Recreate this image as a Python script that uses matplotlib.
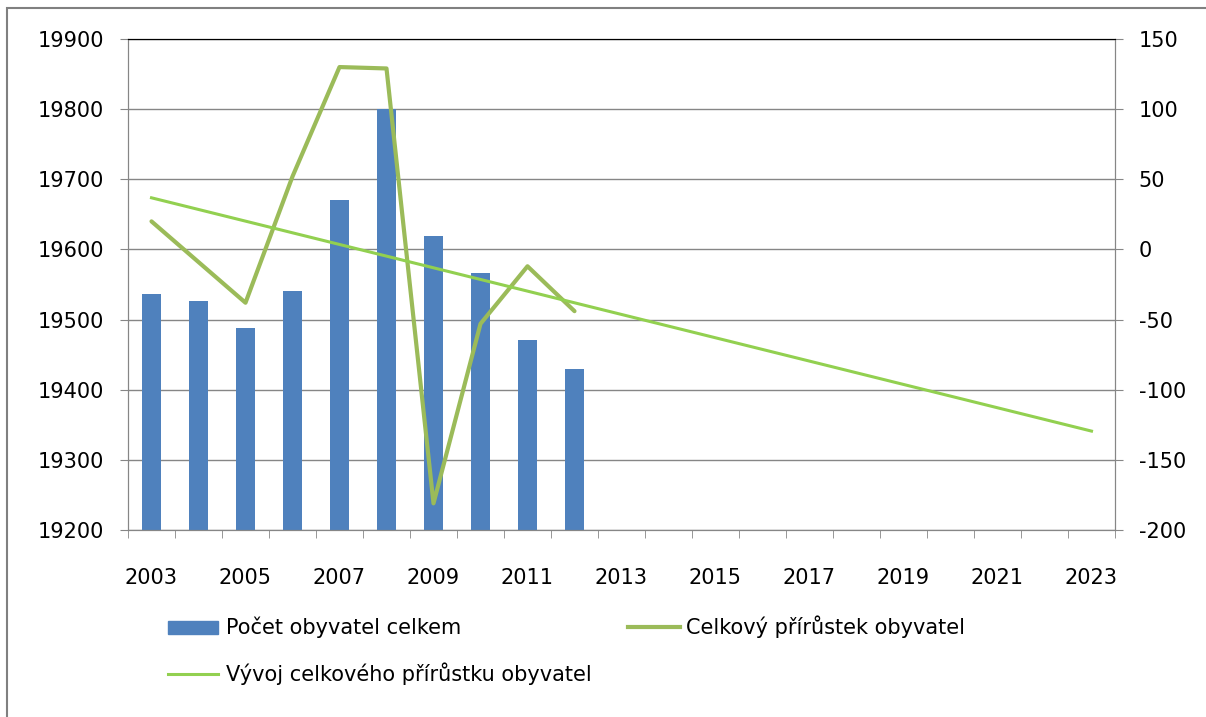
import numpy as np
import matplotlib.pyplot as plt
from matplotlib.lines import Line2D
from matplotlib.patches import Rectangle

# data
years = [str(y) for y in range(2003, 2024)]
pop_years = ['2003', '2004', '2005', '2006', '2007', '2008', '2009', '2010', '2011', '2012']
pop_total = [19536, 19526, 19488, 19541, 19670, 19800, 19619, 19567, 19471, 19430]
growth = [20, -9, -38, 52, 130, 129, -181, -53, -12, -44]
trend_years = ['2003', '2023']
trend_values = [36.8, -129.5]

plt.rcParams['font.family'] = 'DejaVu Sans'
plt.rcParams['axes.unicode_minus'] = False
W, H = 1206, 717
fig = plt.figure(figsize=(W / 100, H / 100), dpi=100)
ax = fig.add_axes([128 / W, 1 - 530 / H, (1115 - 128) / W, (530 - 39) / H])
ax2 = ax.twinx()

xi = {y: i for i, y in enumerate(years)}
grid_c = '#868686'

ax.bar([xi[y] for y in pop_years], pop_total, width=0.41, color='#4F81BD', zorder=2)
ax.set_ylim(19200, 19900)
ax.set_yticks(np.arange(19200, 19901, 100))
ax.set_xlim(-0.5, len(years) - 0.5)
ax.yaxis.grid(True, color=grid_c, lw=1)
ax.set_axisbelow(True)

ax2.plot([xi[y] for y in pop_years], growth, color='#9BBB59', lw=3, solid_capstyle='round')
ax2.plot([xi[y] for y in trend_years], trend_values, color='#92D050', lw=2.2)
ax2.set_ylim(-200, 150)
ax2.set_yticks(np.arange(-200, 151, 50))

# x ticks: labels every other year, marks between categories
ax.set_xticks(range(0, len(years), 2))
ax.set_xticklabels(years[::2])
ax.set_xticks(np.arange(-0.5, len(years), 1), minor=True)
ax.tick_params(axis='x', which='major', length=0, pad=27, labelsize=15)
ax.tick_params(axis='x', which='minor', length=6, color=grid_c, direction='out')
ax.tick_params(axis='y', length=6, color=grid_c, pad=11, labelsize=15)
ax2.tick_params(axis='y', length=6, color=grid_c, pad=11, labelsize=15)

for a in (ax, ax2):
    for s in ('left', 'right', 'bottom'):
        a.spines[s].set_color(grid_c)
    a.spines['top'].set_color('black')

# legend, placed by hand
def px(x, y):
    return x / W, 1 - y / H

fig.add_artist(Rectangle(px(168, 634), 50 / W, 13 / H, color='#4F81BD',
                         transform=fig.transFigure))
fig.text(*px(226, 627), 'Počet obyvatel celkem', fontsize=15, va='center')
fig.add_artist(Line2D([628 / W, 680 / W], [1 - 627 / H] * 2, color='#9BBB59', lw=3,
                      transform=fig.transFigure))
fig.text(*px(686, 627), 'Celkový přírůstek obyvatel', fontsize=15, va='center')
fig.add_artist(Line2D([168 / W, 218 / W], [1 - 674 / H] * 2, color='#92D050', lw=2.2,
                      transform=fig.transFigure))
fig.text(*px(226, 674), 'Vývoj celkového přírůstku obyvatel', fontsize=15, va='center')

# chart border
fig.add_artist(Rectangle((7 / W, -0.2), 2, 1 - 8 / H + 0.2, fill=False,
                         edgecolor='#808080', lw=1.5, transform=fig.transFigure))

fig.savefig('out.png', dpi=100)
